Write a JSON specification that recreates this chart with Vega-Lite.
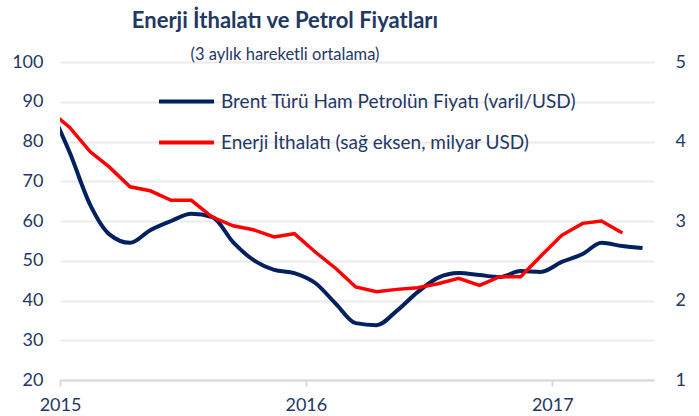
{
  "$schema": "https://vega.github.io/schema/vega-lite/v6.json",
  "width": 594,
  "height": 318,
  "autosize": "none",
  "padding": {"left": 60, "top": 62, "right": 45, "bottom": 36},
  "background": "white",
  "config": {"font": "Lato", "view": {"stroke": null}},
  "title": {
    "text": "Enerji İthalatı ve Petrol Fiyatları",
    "subtitle": "(3 aylık hareketli ortalama)",
    "anchor": "middle",
    "dx": -72,
    "fontSize": 22,
    "fontWeight": "bold",
    "color": "#1F3864",
    "subtitleFontSize": 16.5,
    "subtitleColor": "#1F3864",
    "subtitlePadding": 14,
    "offset": -11
  },
  "data": {
    "values": [
      {"tarih": "2014-12-15", "brent": 89.0, "enerji": 4.40},
      {"tarih": "2015-01-15", "brent": 77.4, "enerji": 4.18},
      {"tarih": "2015-02-15", "brent": 64.0, "enerji": 3.87},
      {"tarih": "2015-03-15", "brent": 56.7, "enerji": 3.68},
      {"tarih": "2015-04-15", "brent": 54.5, "enerji": 3.43},
      {"tarih": "2015-05-15", "brent": 57.7, "enerji": 3.38},
      {"tarih": "2015-06-15", "brent": 60.0, "enerji": 3.26},
      {"tarih": "2015-07-15", "brent": 61.8, "enerji": 3.26},
      {"tarih": "2015-08-15", "brent": 61.0, "enerji": 3.05},
      {"tarih": "2015-09-15", "brent": 54.7, "enerji": 2.94},
      {"tarih": "2015-10-15", "brent": 50.2, "enerji": 2.89},
      {"tarih": "2015-11-15", "brent": 47.7, "enerji": 2.80},
      {"tarih": "2015-12-15", "brent": 46.9, "enerji": 2.84},
      {"tarih": "2016-01-15", "brent": 44.4, "enerji": 2.61},
      {"tarih": "2016-02-15", "brent": 39.1, "enerji": 2.40},
      {"tarih": "2016-03-15", "brent": 34.3, "enerji": 2.17},
      {"tarih": "2016-04-15", "brent": 33.8, "enerji": 2.11},
      {"tarih": "2016-05-15", "brent": 37.4, "enerji": 2.14},
      {"tarih": "2016-06-15", "brent": 42.1, "enerji": 2.16},
      {"tarih": "2016-07-15", "brent": 45.7, "enerji": 2.21},
      {"tarih": "2016-08-15", "brent": 46.9, "enerji": 2.28},
      {"tarih": "2016-09-15", "brent": 46.4, "enerji": 2.19},
      {"tarih": "2016-10-15", "brent": 45.9, "enerji": 2.30},
      {"tarih": "2016-11-15", "brent": 47.4, "enerji": 2.30},
      {"tarih": "2016-12-15", "brent": 47.2, "enerji": 2.56},
      {"tarih": "2017-01-15", "brent": 49.7, "enerji": 2.82},
      {"tarih": "2017-02-15", "brent": 51.7, "enerji": 2.97},
      {"tarih": "2017-03-15", "brent": 54.5, "enerji": 3.00},
      {"tarih": "2017-04-15", "brent": 53.7, "enerji": 2.85},
      {"tarih": "2017-05-15", "brent": 53.2, "enerji": null}
    ]
  },
  "layer": [
    {
      "mark": {"type": "line", "interpolate": "monotone", "strokeWidth": 4, "clip": true},
      "encoding": {
        "x": {
          "field": "tarih",
          "type": "temporal",
          "scale": {
            "type": "utc",
            "domain": [
              {"year": 2015, "month": 1, "date": 1, "utc": true},
              {"year": 2017, "month": 6, "date": 1, "utc": true}
            ]
          },
          "axis": {
            "title": null,
            "values": [
              {"year": 2015, "month": 1, "date": 1, "utc": true},
              {"year": 2016, "month": 1, "date": 1, "utc": true},
              {"year": 2017, "month": 1, "date": 1, "utc": true}
            ],
            "format": "%Y",
            "grid": false,
            "domainColor": "#D9D9D9",
            "domainWidth": 2,
            "tickColor": "#D9D9D9",
            "tickWidth": 2,
            "tickSize": 6,
            "labelFontSize": 18,
            "labelColor": "#1F3864",
            "labelPadding": 10,
            "labelFlush": false
          }
        },
        "y": {
          "field": "brent",
          "type": "quantitative",
          "scale": {"domain": [20, 100], "nice": false, "zero": false},
          "axis": {
            "title": null,
            "orient": "left",
            "values": [20, 30, 40, 50, 60, 70, 80, 90, 100],
            "grid": true,
            "gridColor": "#EBEBEB",
            "gridWidth": 2,
            "domain": false,
            "ticks": false,
            "labelPadding": 17,
            "labelFontSize": 18,
            "labelColor": "#1F3864"
          }
        },
        "color": {
          "datum": "Brent Türü Ham Petrolün Fiyatı (varil/USD)",
          "scale": {
            "domain": ["Brent Türü Ham Petrolün Fiyatı (varil/USD)", "Enerji İthalatı (sağ eksen, milyar USD)"],
            "range": ["#002060", "#FF0000"]
          },
          "legend": {
            "orient": "none",
            "legendX": 97,
            "legendY": 10,
            "title": null,
            "direction": "vertical",
            "symbolType": "stroke",
            "symbolStrokeWidth": 4,
            "symbolSize": 3025,
            "labelFontSize": 19,
            "labelColor": "#1F3864",
            "labelLimit": 0,
            "labelOffset": 5,
            "rowPadding": 1
          }
        }
      }
    },
    {
      "mark": {"type": "line", "strokeWidth": 3.5, "clip": true},
      "encoding": {
        "x": {"field": "tarih", "type": "temporal"},
        "y": {
          "field": "enerji",
          "type": "quantitative",
          "scale": {"domain": [1, 5], "nice": false, "zero": false},
          "axis": {
            "title": null,
            "orient": "right",
            "values": [1, 2, 3, 4, 5],
            "grid": false,
            "domain": false,
            "ticks": false,
            "labelPadding": 21,
            "labelFontSize": 18,
            "labelColor": "#1F3864"
          }
        },
        "color": {"datum": "Enerji İthalatı (sağ eksen, milyar USD)"}
      }
    }
  ],
  "resolve": {"scale": {"y": "independent"}}
}
